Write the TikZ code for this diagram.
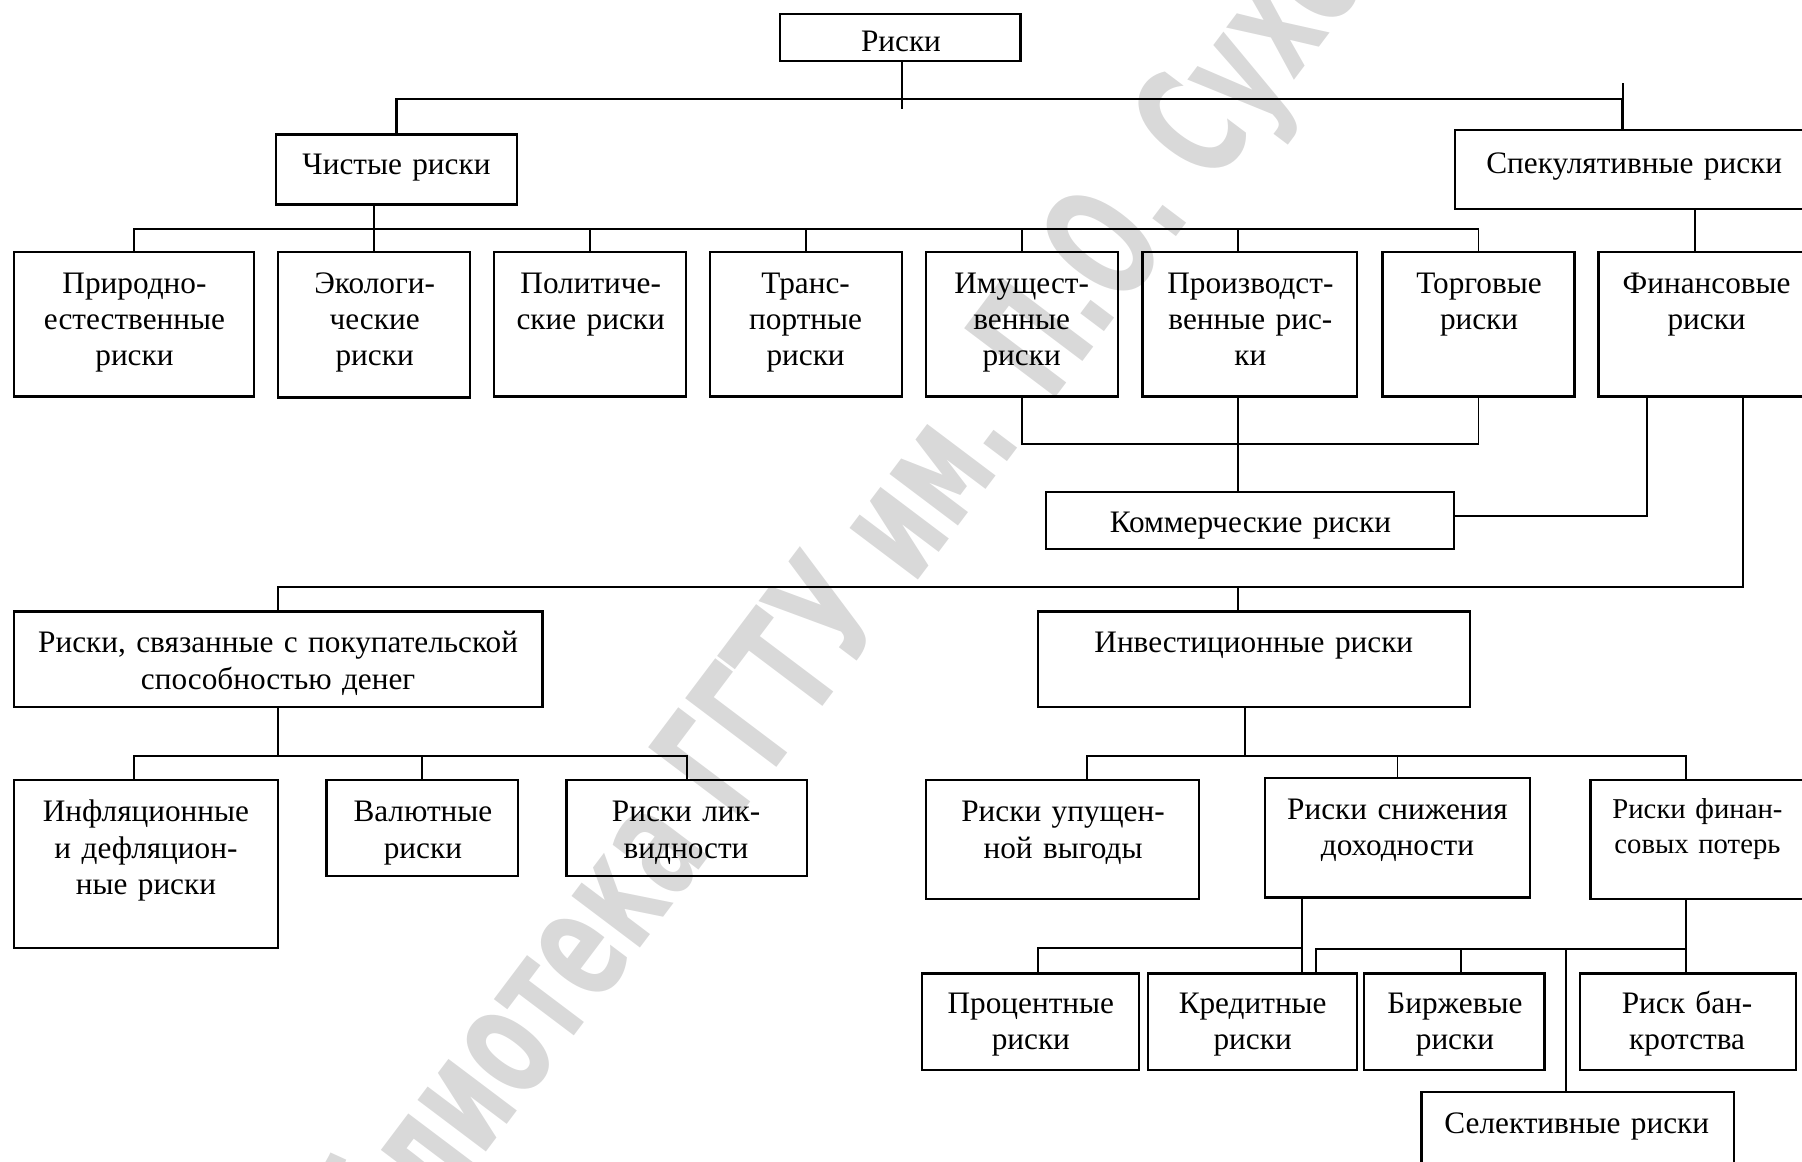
\documentclass[tikz,border=0pt]{standalone}
\usepackage{fontspec}
\usepackage{graphicx}
\setmainfont{Liberation Serif}
\newfontfamily\wmfont{DejaVu Sans}
\newcommand\rbox[5]{\node[box, anchor=north west, minimum width={(#4-#2)*0.5pt}, minimum height={(#5-#3)*0.5pt}] (#1) at (#2,#3) {};}
\newcommand\rtxt[4]{\node[txt] (#1) at (#2,#3) {#4};}
\begin{document}
\begin{tikzpicture}[x=0.5pt, y=-0.5pt,
  box/.style={draw, line width=1pt, inner sep=0pt, outer sep=0pt},
  txt/.style={anchor=base, align=center, text width=250pt, inner sep=0pt,
              font=\fontsize{13.6}{15.8}\selectfont},
  smalltxt/.style={txt, font=\fontsize{12.5}{15.2}\selectfont},
  con/.style={line width=0.85pt},
  bus/.style={line width=1.1pt},
  wm/.style={text=black!15, inner sep=0pt}]
\useasboundingbox (0,0) rectangle (1568,1011);
\clip (0,0) rectangle (1568,1011);

% watermark
\node[wm, rotate=53] (wm) at (732,528) {\resizebox{815pt}{54pt}{\wmfont\bfseries Библиотека ГГТУ им. П.О. Сухого}};

% boxes
\rbox{r}{679}{12}{888}{53}
\rbox{pure}{240}{117}{450}{178}
\rbox{spec}{1266}{113}{1600}{182}
\rbox{n1}{12}{219}{221}{345}
\rbox{n2}{242}{219}{409}{346}
\rbox{n3}{430}{219}{597}{345}
\rbox{n4}{618}{219}{785}{345}
\rbox{n5}{806}{219}{973}{345}
\rbox{n6}{994}{219}{1181}{345}
\rbox{n7}{1203}{219}{1370}{345}
\rbox{fin}{1391}{219}{1600}{345}
\rbox{comm}{910}{428}{1265}{478}
\rbox{purch}{12}{532}{472}{615}
\rbox{inv}{903}{532}{1279}{615}
\rbox{infl}{12}{679}{242}{825}
\rbox{val}{284}{679}{451}{762}
\rbox{liq}{493}{679}{702}{762}
\rbox{lost}{806}{679}{1043}{782}
\rbox{dec}{1101}{677}{1331}{781}
\rbox{floss}{1384}{679}{1600}{782}
\rbox{pct}{802}{847}{991}{931}
\rbox{cred}{999}{847}{1181}{931}
\rbox{exch}{1187}{847}{1344}{931}
\rbox{bank}{1375}{847}{1563}{931}
\rbox{sel}{1237}{950}{1509}{1050}

% texts
\rtxt{r-t}{784}{45}{Риски}
\rtxt{pure-t}{345}{152}{Чистые риски}
\rtxt{spec-t}{1422}{151}{Спекулятивные риски}
\rtxt{n1-t}{117}{255}{Природно-\\естественные\\риски}
\rtxt{n2-t}{326}{255}{Экологи-\\ческие\\риски}
\rtxt{n3-t}{514}{255}{Политиче-\\ские риски}
\rtxt{n4-t}{701}{255}{Транс-\\портные\\риски}
\rtxt{n5-t}{889}{255}{Имущест-\\венные\\риски}
\rtxt{n6-t}{1088}{255}{Производст-\\венные рис-\\ки}
\rtxt{n7-t}{1287}{255}{Торговые\\риски}
\rtxt{fin-t}{1485}{255}{Финансовые\\риски}
\rtxt{comm-t}{1088}{463}{Коммерческие риски}
\rtxt{purch-t}{242}{568}{Риски, связанные с покупательской\\способностью денег}
\rtxt{inv-t}{1091}{568}{Инвестиционные риски}
\rtxt{infl-t}{127}{715}{Инфляционные\\и дефляцион-\\ные риски}
\rtxt{val-t}{368}{715}{Валютные\\риски}
\rtxt{liq-t}{597}{715}{Риски лик-\\видности}
\rtxt{lost-t}{925}{715}{Риски упущен-\\ной выгоды}
\rtxt{dec-t}{1216}{713}{Риски снижения\\доходности}
\node[smalltxt] (floss-t) at (1477,712) {Риски финан-\\совых потерь};
\rtxt{pct-t}{897}{882}{Процентные\\риски}
\rtxt{cred-t}{1090}{882}{Кредитные\\риски}
\rtxt{exch-t}{1266}{882}{Биржевые\\риски}
\rtxt{bank-t}{1468}{882}{Риск бан-\\кротства}
\rtxt{sel-t}{1372}{986}{Селективные риски}

% top level
\draw[con] ([xshift=0.75pt]r.south) -- ++(0,42);
\draw[bus] (pure.north) -- ++(0,-31) -| ([xshift=73pt]spec.north west);
\draw[con] ([xshift=73pt]spec.north west) -- ++(0,-41);
% pure risks
\draw[con] (n2.north) -- ++(0,-41);
\draw[con] (n1.north) -- ++(0,-20) -| (n7.north);
\draw[con] (n3.north) -- ++(0,-20);
\draw[con] (n4.north) -- ++(0,-20);
\draw[con] (n5.north) -- ++(0,-20);
\draw[con] ([xshift=-5.25pt]n6.north) -- ++(0,-20);
% speculative
\draw[con] ([xshift=42pt]fin.north west) -- ++(0,-37);
% commercial
\draw[con] (n5.south) -- ++(0,41) -| (n7.south);
\draw[con] ([xshift=-5.25pt]n6.south) -- ([xshift=-5.25pt]comm.north);
\draw[con] ([xshift=21pt]fin.south west) |- ([yshift=2pt]comm.east);
% financial
\draw[con] ([xshift=63pt]fin.south west) -- ++(0,166) -| (purch.north);
\draw[con] ([xshift=-7pt]inv.north) -- ++(0,-21);
% purchasing power
\draw[con] (purch.south) -- ++(0,43);
\draw[con] ([xshift=-5pt]infl.north) -- ++(0,-21) -| (liq.north);
\draw[con] (val.north) -- ++(0,-21);
% investment
\draw[con] ([xshift=-4pt]inv.south) -- ++(0,43);
\draw[con] ([xshift=10.75pt]lost.north) -- ++(0,-21) -| ([xshift=41.5pt]floss.north west);
\draw[con] (dec.north) -- ++(0,-19);
% lower level
\draw[con] ([xshift=-41.5pt]dec.south) -- ([xshift=21.5pt]cred.north);
\draw[con] ([xshift=3.25pt]pct.north) -- ++(0,-22) -| ([xshift=-41.5pt]dec.south);
\draw[con] ([xshift=41.5pt]floss.south west) -- ([xshift=-1pt]bank.north);
\draw[con] ([xshift=27.5pt]cred.north) -- ++(0,-21) -| ([xshift=-1pt]bank.north);
\draw[con] ([xshift=2.75pt]exch.north) -- ++(0,-21);
\draw[con] ([xshift=-5pt]sel.north) -- ++(0,-124);
\end{tikzpicture}
\end{document}
